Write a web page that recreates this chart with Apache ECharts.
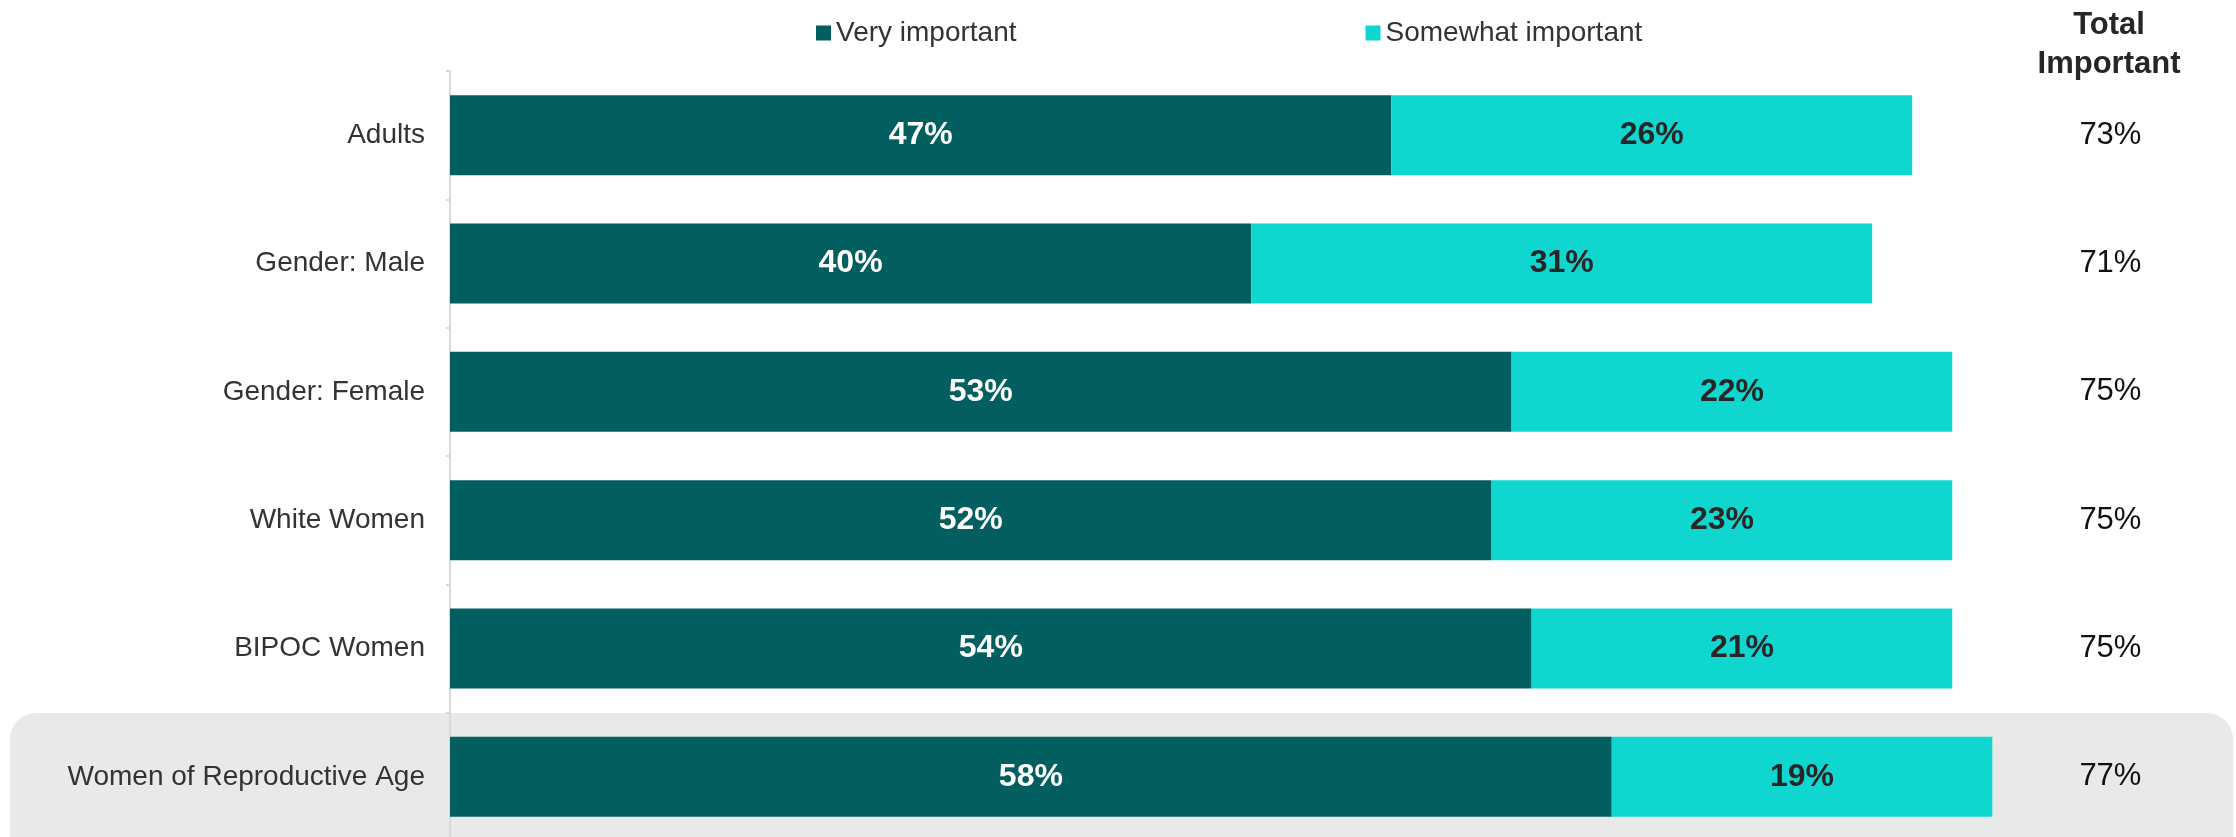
<!DOCTYPE html>
<html>
<head>
<meta charset="utf-8">
<script src="https://cdn.jsdelivr.net/npm/echarts@6/dist/echarts.min.js"></script>
<style>
html,body{margin:0;padding:0;background:#fff;}
#chart{width:2236px;height:837px;}
</style>
</head>
<body>
<div id="chart"></div>
<script>
const categories = ['Adults', 'Gender: Male', 'Gender: Female', 'White Women', 'BIPOC Women', 'Women of Reproductive Age'];
const veryImportant = [47, 40, 53, 52, 54, 58];
const somewhatImportant = [26, 31, 22, 23, 21, 19];
const totalImportant = [73, 71, 75, 75, 75, 77];
const seriesNames = ['Very important', 'Somewhat important'];
const totalHeader = 'Total\nImportant';

const FONT = '"Liberation Sans", Arial, sans-serif';
const chart = echarts.init(document.getElementById('chart'));

chart.setOption({
  animation: false,
  backgroundColor: '#ffffff',
  textStyle: { fontFamily: FONT },
  graphic: [
    {
      type: 'rect',
      z: -10,
      shape: { x: 10, y: 713, width: 2223, height: 150, r: [26, 26, 0, 0] },
      style: { fill: '#e9e9e9' }
    },
    {
      type: 'text',
      x: 2109,
      y: 6,
      style: {
        text: totalHeader,
        fill: '#262626',
        font: 'bold 31px ' + FONT,
        textAlign: 'center',
        verticalAlign: 'top',
        lineHeight: 39
      }
    }
  ],
  legend: {
    left: 811,
    top: 14,
    itemWidth: 15,
    itemHeight: 15,
    itemGap: 349,
    icon: 'rect',
    data: seriesNames,
    textStyle: { fontSize: 28, color: '#333333', fontFamily: FONT }
  },
  grid: {
    left: 450,
    top: 71,
    width: 80 * 20.03,
    height: 770,
    containLabel: false,
    outerBoundsMode: 'none'
  },
  xAxis: {
    type: 'value',
    min: 0,
    max: 80,
    show: false
  },
  yAxis: [
    {
      type: 'category',
      data: categories,
      inverse: true,
      axisLine: { show: true, lineStyle: { color: '#d9d9d9', width: 2 } },
      axisTick: { show: true, length: 4, lineStyle: { color: '#d9d9d9', width: 2 } },
      axisLabel: { fontSize: 28, color: '#333333', margin: 25, fontFamily: FONT },
      splitLine: { show: false }
    },
    {
      type: 'category',
      data: totalImportant.map(v => v + '%'),
      inverse: true,
      position: 'right',
      axisLine: { show: false },
      axisTick: { show: false },
      axisLabel: { fontSize: 31, color: '#111111', margin: 58, align: 'center', fontFamily: FONT },
      splitLine: { show: false }
    }
  ],
  series: [
    {
      name: seriesNames[0],
      type: 'bar',
      stack: 'total',
      yAxisIndex: 0,
      barWidth: 80,
      data: veryImportant,
      itemStyle: { color: '#035f5f' },
      label: {
        show: true,
        position: 'inside',
        formatter: p => p.value + '%',
        color: '#ffffff',
        fontSize: 32,
        fontWeight: 'bold',
        fontFamily: FONT
      }
    },
    {
      name: seriesNames[1],
      type: 'bar',
      stack: 'total',
      yAxisIndex: 0,
      barWidth: 80,
      data: somewhatImportant,
      itemStyle: { color: '#0fd7cf' },
      label: {
        show: true,
        position: 'inside',
        formatter: p => p.value + '%',
        color: '#262626',
        fontSize: 32,
        fontWeight: 'bold',
        fontFamily: FONT
      }
    }
  ]
});
</script>
</body>
</html>
